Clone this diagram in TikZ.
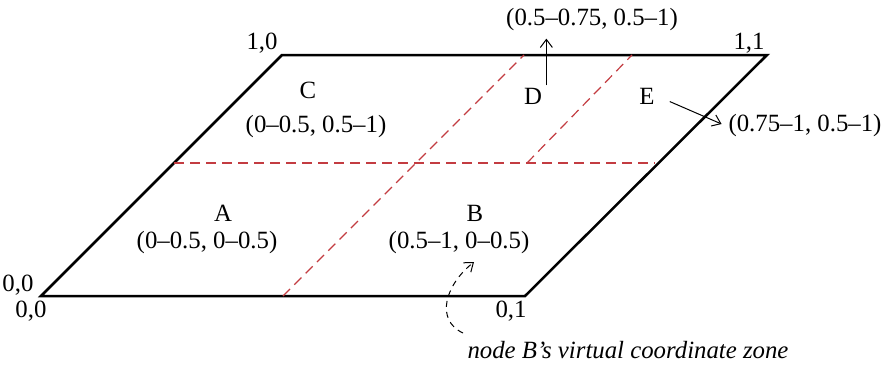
\documentclass[tikz,border=0pt]{standalone}
\usepackage{fontspec}
\setmainfont{Liberation Serif}
\usetikzlibrary{arrows.meta}
\definecolor{zonered}{RGB}{195,60,65}
\begin{document}
\begin{tikzpicture}[
  x=0.5pt, y=-0.5pt,
  every node/.style={font=\fontsize{12.4}{14}\selectfont, inner sep=1pt},
  edge/.style={line width=1.25pt, line join=miter},
  split/.style={zonered, line width=0.6pt, dash pattern=on 5pt off 3pt},
  pointer/.style={-{Straight Barb[length=4pt, width=6pt]}, line width=0.5pt, shorten >=2.5pt},
  hint/.style={-{Straight Barb[length=4pt, width=6pt]}, line width=0.5pt, dash pattern=on 3pt off 2.5pt}
]
\useasboundingbox (0,0) rectangle (883,364);
% corners of the plane
\coordinate (c00) at (41,296);
\coordinate (c01) at (525,296);
\coordinate (c11) at (767,55);
\coordinate (c10) at (282,55);
\draw[edge] (c00) -- (c01) -- (c11) -- (c10) -- cycle;
% zone boundaries
\draw[split] (174,163) -- (655,163);
\draw[split] (283,296) -- (524,55);
\draw[split] (527,163) -- (632,55);
% corner labels
\node (l00a) at (18,285) {0,0};
\node (l00b) at (31,311) {0,0};
\node (l01) at (511,311) {0,1};
\node (l10) at (262,43) {1,0};
\node (l11) at (749,43) {1,1};
% zones
\node (A) at (223,213) {A};
\node (Az) at (207,243) {(0–0.5, 0–0.5)};
\node (B) at (475,213) {B};
\node (Bz) at (459,243) {(0.5–1, 0–0.5)};
\node (C) at (308,90) {C};
\node (Cz) at (316,127) {(0–0.5, 0.5–1)};
\node (D) at (533,96) {D};
\node (Dz) at (592,20) {(0.5–0.75, 0.5–1)};
\node (E) at (647,96) {E};
\node (Ez) at (805,126) {(0.75–1, 0.5–1)};
\node (note) at (628,350) {\itshape node B’s virtual coordinate zone};
\coordinate (Dfoot) at ([xshift=1pt]D.north east);
\draw[pointer] (Dfoot) -- (Dz.south -| Dfoot);
\draw[pointer, shorten <=7pt] (E.east) -- (Ez.west);
\coordinate (tail) at (463,333);
\coordinate (tip) at (474,262);
\draw[hint] (tail) .. controls (435,320) and (445,285) .. (tip);
\end{tikzpicture}
\end{document}
